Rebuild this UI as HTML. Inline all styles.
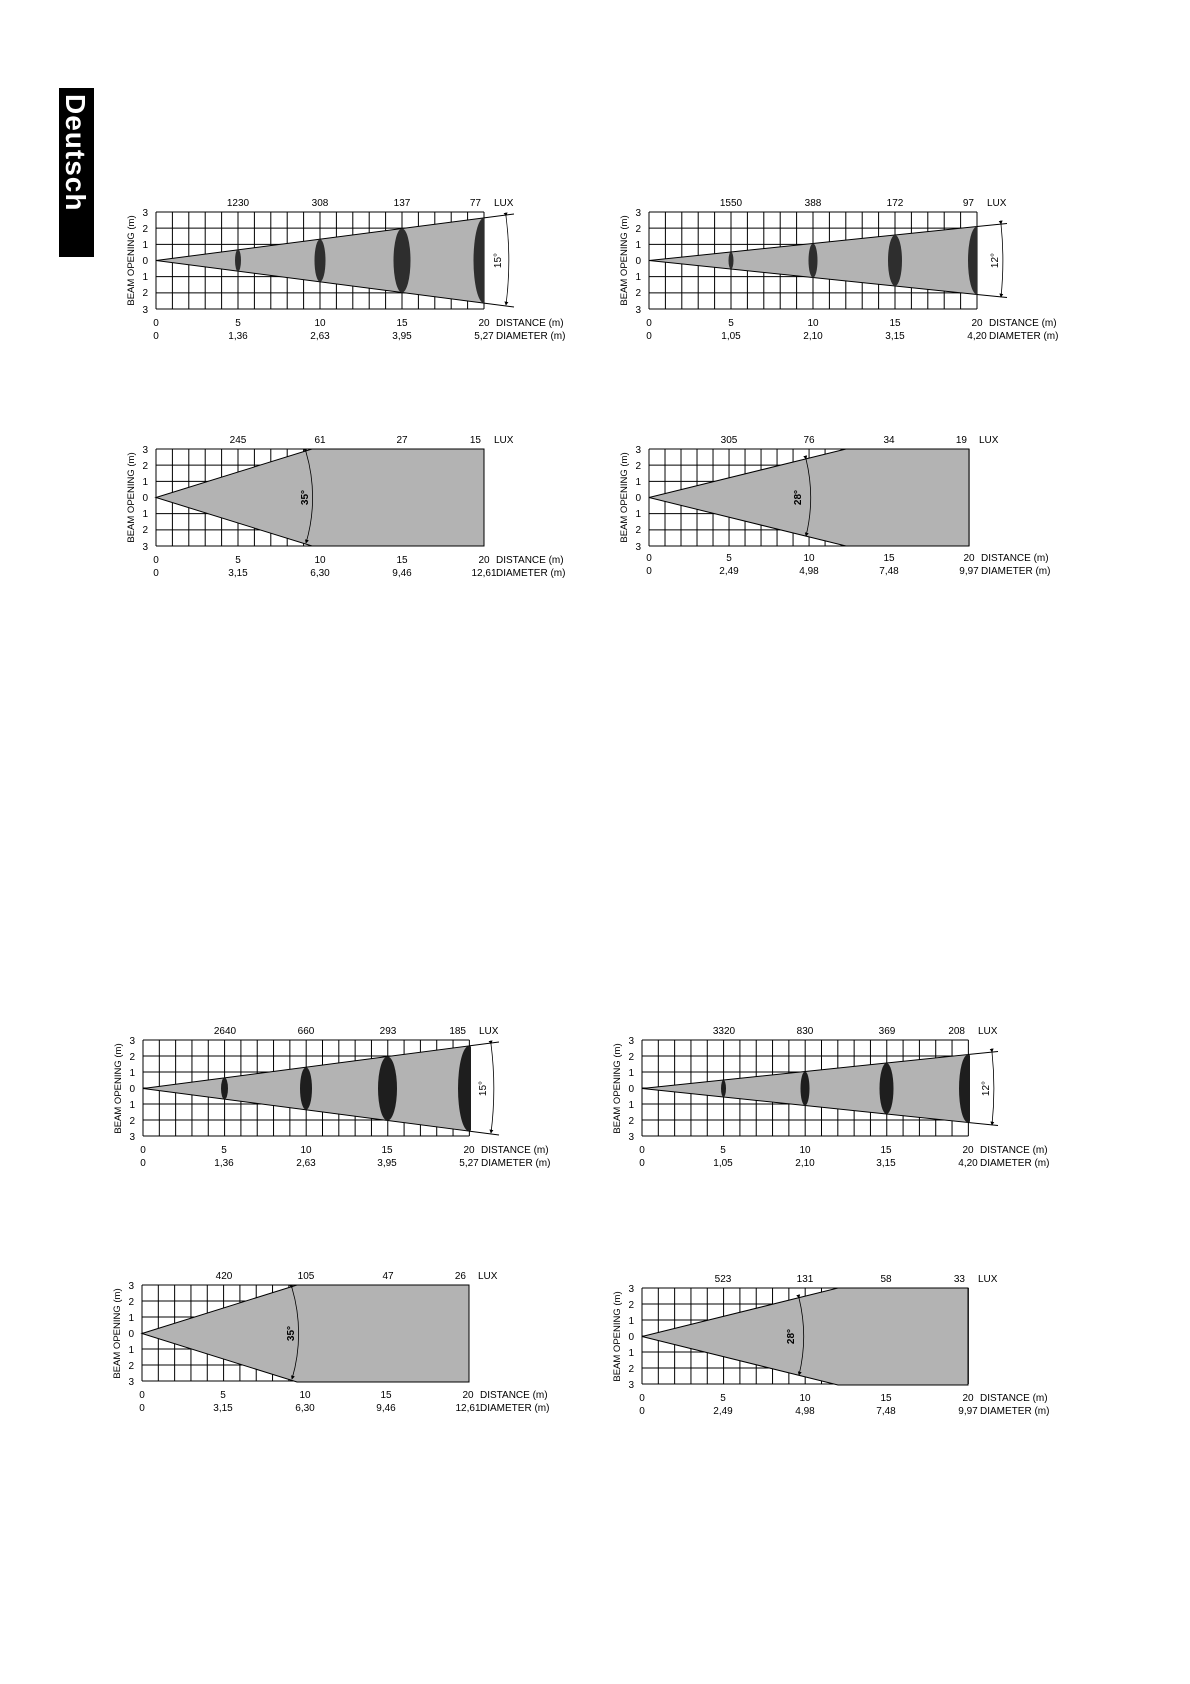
<!DOCTYPE html>
<html><head><meta charset="utf-8"><style>
html,body{margin:0;padding:0;background:#fff;}
svg{display:block;font-family:"Liberation Sans",Arial,sans-serif;}
</style></head><body>
<svg width="1190" height="1684" viewBox="0 0 1190 1684" xmlns="http://www.w3.org/2000/svg">
<defs>
<path id="grid" fill="none" stroke="#000" stroke-width="1" d="M0,0H328M0,16.17H328M0,32.33H328M0,48.5H328M0,64.67H328M0,80.83H328M0,97H328
M0,0V97M16.4,0V97M32.8,0V97M49.2,0V97M65.6,0V97M82,0V97M98.4,0V97M114.8,0V97M131.2,0V97M147.6,0V97M164,0V97M180.4,0V97M196.8,0V97M213.2,0V97M229.6,0V97M246,0V97M262.4,0V97M278.8,0V97M295.2,0V97M311.6,0V97M328,0V97"/>
<marker id="ar" viewBox="0 0 6 6" refX="5" refY="3" markerWidth="5" markerHeight="5" orient="auto"><path d="M0,0L6,3L0,6z" fill="#000"/></marker>
<clipPath id="gc"><rect x="0" y="0" width="328" height="97"/></clipPath>
</defs>

<rect x="59" y="88" width="35" height="169" fill="#000"/>
<text transform="translate(66,94) rotate(90)" font-size="28" font-weight="bold" fill="#fff" letter-spacing="1">Deutsch</text>

<!-- chart generic labels macro manually repeated -->
<!-- C1 -->
<g transform="translate(156,212)" font-size="10">
<use href="#grid"/>
<g clip-path="url(#gc)">
<polygon points="0,48.5 328,5.9 328,91.1" fill="#b3b3b3" stroke="#000" stroke-width="1"/>
<ellipse cx="82" cy="48.5" rx="3" ry="11" fill="#2e2e2e"/>
<ellipse cx="164" cy="48.5" rx="5.5" ry="21.3" fill="#2e2e2e"/>
<ellipse cx="246" cy="48.5" rx="8.5" ry="32" fill="#2e2e2e"/>
<ellipse cx="328" cy="48.5" rx="10.5" ry="42.6" fill="#2e2e2e"/>
</g>
<path d="M328,5.9L358,2M328,91.1L358,95" stroke="#000"/>
<path d="M350,4 A352 352 0 0 1 350,93" fill="none" stroke="#000" stroke-width="0.8" marker-start="url(#ar)" marker-end="url(#ar)" transform="translate(0,0)"/>
<text transform="translate(345,48.5) rotate(-90)" text-anchor="middle" font-size="10">15°</text>
<text x="82" y="-6" text-anchor="middle">1230</text><text x="164" y="-6" text-anchor="middle">308</text><text x="246" y="-6" text-anchor="middle">137</text><text x="325" y="-6" text-anchor="end">77</text><text x="338" y="-6">LUX</text>
<g text-anchor="end"><text x="-8" y="4">3</text><text x="-8" y="20">2</text><text x="-8" y="36">1</text><text x="-8" y="52">0</text><text x="-8" y="68">1</text><text x="-8" y="84">2</text><text x="-8" y="101">3</text></g>
<text transform="translate(-22,48.5) rotate(-90)" text-anchor="middle" font-size="9.5">BEAM OPENING (m)</text>
<g text-anchor="middle"><text x="0" y="114">0</text><text x="82" y="114">5</text><text x="164" y="114">10</text><text x="246" y="114">15</text><text x="328" y="114">20</text>
<text x="0" y="127">0</text><text x="82" y="127">1,36</text><text x="164" y="127">2,63</text><text x="246" y="127">3,95</text><text x="328" y="127">5,27</text></g>
<text x="340" y="114">DISTANCE (m)</text><text x="340" y="127">DIAMETER (m)</text>
</g>

<!-- C2 -->
<g transform="translate(649,212)" font-size="10">
<use href="#grid"/>
<g clip-path="url(#gc)">
<polygon points="0,48.5 328,14.5 328,82.5" fill="#b3b3b3" stroke="#000"/>
<ellipse cx="82" cy="48.5" rx="2.5" ry="8.5" fill="#2e2e2e"/>
<ellipse cx="164" cy="48.5" rx="4.5" ry="17" fill="#2e2e2e"/>
<ellipse cx="246" cy="48.5" rx="7" ry="25.5" fill="#2e2e2e"/>
<ellipse cx="328" cy="48.5" rx="9" ry="34" fill="#2e2e2e"/>
</g>
<path d="M328,14.5L358,11.5M328,82.5L358,85.5" stroke="#000"/>
<path d="M352,12 A355 355 0 0 1 352,85" fill="none" stroke="#000" stroke-width="0.8" marker-start="url(#ar)" marker-end="url(#ar)"/>
<text transform="translate(349,48.5) rotate(-90)" text-anchor="middle">12°</text>
<text x="82" y="-6" text-anchor="middle">1550</text><text x="164" y="-6" text-anchor="middle">388</text><text x="246" y="-6" text-anchor="middle">172</text><text x="325" y="-6" text-anchor="end">97</text><text x="338" y="-6">LUX</text>
<g text-anchor="end"><text x="-8" y="4">3</text><text x="-8" y="20">2</text><text x="-8" y="36">1</text><text x="-8" y="52">0</text><text x="-8" y="68">1</text><text x="-8" y="84">2</text><text x="-8" y="101">3</text></g>
<text transform="translate(-22,48.5) rotate(-90)" text-anchor="middle" font-size="9.5">BEAM OPENING (m)</text>
<g text-anchor="middle"><text x="0" y="114">0</text><text x="82" y="114">5</text><text x="164" y="114">10</text><text x="246" y="114">15</text><text x="328" y="114">20</text>
<text x="0" y="127">0</text><text x="82" y="127">1,05</text><text x="164" y="127">2,10</text><text x="246" y="127">3,15</text><text x="328" y="127">4,20</text></g>
<text x="340" y="114">DISTANCE (m)</text><text x="340" y="127">DIAMETER (m)</text>
</g>

<!-- C3 -->
<g transform="translate(156,449)" font-size="10">
<use href="#grid"/>
<polygon points="0,48.5 156,0 328,0 328,97 156,97" fill="#b3b3b3" stroke="#000"/>
<path d="M150,3 A160 160 0 0 1 150,94" fill="none" stroke="#000" stroke-width="0.8" marker-start="url(#ar)" marker-end="url(#ar)"/>
<text transform="translate(152,48.5) rotate(-90)" text-anchor="middle" font-weight="bold">35°</text>
<text x="82" y="-6" text-anchor="middle">245</text><text x="164" y="-6" text-anchor="middle">61</text><text x="246" y="-6" text-anchor="middle">27</text><text x="325" y="-6" text-anchor="end">15</text><text x="338" y="-6">LUX</text>
<g text-anchor="end"><text x="-8" y="4">3</text><text x="-8" y="20">2</text><text x="-8" y="36">1</text><text x="-8" y="52">0</text><text x="-8" y="68">1</text><text x="-8" y="84">2</text><text x="-8" y="101">3</text></g>
<text transform="translate(-22,48.5) rotate(-90)" text-anchor="middle" font-size="9.5">BEAM OPENING (m)</text>
<g text-anchor="middle"><text x="0" y="114">0</text><text x="82" y="114">5</text><text x="164" y="114">10</text><text x="246" y="114">15</text><text x="328" y="114">20</text>
<text x="0" y="127">0</text><text x="82" y="127">3,15</text><text x="164" y="127">6,30</text><text x="246" y="127">9,46</text><text x="328" y="127">12,61</text></g>
<text x="340" y="114">DISTANCE (m)</text><text x="340" y="127">DIAMETER (m)</text>
</g>

<!-- C4 -->
<g transform="translate(649,449)" font-size="10">
<use href="#grid" transform="scale(0.976,1)"/>
<polygon points="0,48.5 197,0 320,0 320,97 197,97" fill="#b3b3b3" stroke="#000"/>
<path d="M157,10 A162 162 0 0 1 157,87" fill="none" stroke="#000" stroke-width="0.8" marker-start="url(#ar)" marker-end="url(#ar)"/>
<text transform="translate(152,48.5) rotate(-90)" text-anchor="middle" font-weight="bold">28°</text>
<text x="80" y="-6" text-anchor="middle">305</text><text x="160" y="-6" text-anchor="middle">76</text><text x="240" y="-6" text-anchor="middle">34</text><text x="318" y="-6" text-anchor="end">19</text><text x="330" y="-6">LUX</text>
<g text-anchor="end"><text x="-8" y="4">3</text><text x="-8" y="20">2</text><text x="-8" y="36">1</text><text x="-8" y="52">0</text><text x="-8" y="68">1</text><text x="-8" y="84">2</text><text x="-8" y="101">3</text></g>
<text transform="translate(-22,48.5) rotate(-90)" text-anchor="middle" font-size="9.5">BEAM OPENING (m)</text>
<g text-anchor="middle"><text x="0" y="112">0</text><text x="80" y="112">5</text><text x="160" y="112">10</text><text x="240" y="112">15</text><text x="320" y="112">20</text>
<text x="0" y="125">0</text><text x="80" y="125">2,49</text><text x="160" y="125">4,98</text><text x="240" y="125">7,48</text><text x="320" y="125">9,97</text></g>
<text x="332" y="112">DISTANCE (m)</text><text x="332" y="125">DIAMETER (m)</text>
</g>

<!-- C5 -->
<g transform="translate(143,1040)" font-size="10">
<use href="#grid" transform="scale(0.995,0.99)"/>
<g clip-path="url(#gc)">
<polygon points="0,48.5 326,5.9 326,91.1" fill="#b3b3b3" stroke="#000"/>
<ellipse cx="81.5" cy="48.5" rx="3.5" ry="11" fill="#1e1e1e"/>
<ellipse cx="163" cy="48.5" rx="6" ry="21.3" fill="#1e1e1e"/>
<ellipse cx="244.5" cy="48.5" rx="9.5" ry="32" fill="#1e1e1e"/>
<ellipse cx="326" cy="48.5" rx="11" ry="42.6" fill="#1e1e1e"/>
</g>
<path d="M326,5.9L356,2M326,91.1L356,95" stroke="#000"/>
<path d="M348,4 A352 352 0 0 1 348,93" fill="none" stroke="#000" stroke-width="0.8" marker-start="url(#ar)" marker-end="url(#ar)"/>
<text transform="translate(343,48.5) rotate(-90)" text-anchor="middle">15°</text>
<text x="82" y="-6" text-anchor="middle">2640</text><text x="163" y="-6" text-anchor="middle">660</text><text x="245" y="-6" text-anchor="middle">293</text><text x="323" y="-6" text-anchor="end">185</text><text x="336" y="-6">LUX</text>
<g text-anchor="end"><text x="-8" y="4">3</text><text x="-8" y="20">2</text><text x="-8" y="36">1</text><text x="-8" y="52">0</text><text x="-8" y="68">1</text><text x="-8" y="84">2</text><text x="-8" y="100">3</text></g>
<text transform="translate(-22,48.5) rotate(-90)" text-anchor="middle" font-size="9.5">BEAM OPENING (m)</text>
<g text-anchor="middle"><text x="0" y="113">0</text><text x="81" y="113">5</text><text x="163" y="113">10</text><text x="244" y="113">15</text><text x="326" y="113">20</text>
<text x="0" y="126">0</text><text x="81" y="126">1,36</text><text x="163" y="126">2,63</text><text x="244" y="126">3,95</text><text x="326" y="126">5,27</text></g>
<text x="338" y="113">DISTANCE (m)</text><text x="338" y="126">DIAMETER (m)</text>
</g>

<!-- C6 -->
<g transform="translate(642,1040)" font-size="10">
<use href="#grid" transform="scale(0.995,0.99)"/>
<g clip-path="url(#gc)">
<polygon points="0,48.5 326,14.5 326,82.5" fill="#b3b3b3" stroke="#000"/>
<ellipse cx="81.5" cy="48.5" rx="2.5" ry="8.5" fill="#1e1e1e"/>
<ellipse cx="163" cy="48.5" rx="4.5" ry="17" fill="#1e1e1e"/>
<ellipse cx="244.5" cy="48.5" rx="7" ry="25.5" fill="#1e1e1e"/>
<ellipse cx="326" cy="48.5" rx="9" ry="34" fill="#1e1e1e"/>
</g>
<path d="M326,14.5L356,11.5M326,82.5L356,85.5" stroke="#000"/>
<path d="M350,12 A355 355 0 0 1 350,85" fill="none" stroke="#000" stroke-width="0.8" marker-start="url(#ar)" marker-end="url(#ar)"/>
<text transform="translate(347,48.5) rotate(-90)" text-anchor="middle">12°</text>
<text x="82" y="-6" text-anchor="middle">3320</text><text x="163" y="-6" text-anchor="middle">830</text><text x="245" y="-6" text-anchor="middle">369</text><text x="323" y="-6" text-anchor="end">208</text><text x="336" y="-6">LUX</text>
<g text-anchor="end"><text x="-8" y="4">3</text><text x="-8" y="20">2</text><text x="-8" y="36">1</text><text x="-8" y="52">0</text><text x="-8" y="68">1</text><text x="-8" y="84">2</text><text x="-8" y="100">3</text></g>
<text transform="translate(-22,48.5) rotate(-90)" text-anchor="middle" font-size="9.5">BEAM OPENING (m)</text>
<g text-anchor="middle"><text x="0" y="113">0</text><text x="81" y="113">5</text><text x="163" y="113">10</text><text x="244" y="113">15</text><text x="326" y="113">20</text>
<text x="0" y="126">0</text><text x="81" y="126">1,05</text><text x="163" y="126">2,10</text><text x="244" y="126">3,15</text><text x="326" y="126">4,20</text></g>
<text x="338" y="113">DISTANCE (m)</text><text x="338" y="126">DIAMETER (m)</text>
</g>

<!-- C7 -->
<g transform="translate(142,1285)" font-size="10">
<use href="#grid" transform="scale(0.995,0.99)"/>
<polygon points="0,48.5 155,0 327,0 327,97 155,97" fill="#b3b3b3" stroke="#000"/>
<path d="M150,3 A160 160 0 0 1 150,94" fill="none" stroke="#000" stroke-width="0.8" marker-start="url(#ar)" marker-end="url(#ar)"/>
<text transform="translate(152,48.5) rotate(-90)" text-anchor="middle" font-weight="bold">35°</text>
<text x="82" y="-6" text-anchor="middle">420</text><text x="164" y="-6" text-anchor="middle">105</text><text x="246" y="-6" text-anchor="middle">47</text><text x="324" y="-6" text-anchor="end">26</text><text x="336" y="-6">LUX</text>
<g text-anchor="end"><text x="-8" y="4">3</text><text x="-8" y="20">2</text><text x="-8" y="36">1</text><text x="-8" y="52">0</text><text x="-8" y="68">1</text><text x="-8" y="84">2</text><text x="-8" y="100">3</text></g>
<text transform="translate(-22,48.5) rotate(-90)" text-anchor="middle" font-size="9.5">BEAM OPENING (m)</text>
<g text-anchor="middle"><text x="0" y="113">0</text><text x="81" y="113">5</text><text x="163" y="113">10</text><text x="244" y="113">15</text><text x="326" y="113">20</text>
<text x="0" y="126">0</text><text x="81" y="126">3,15</text><text x="163" y="126">6,30</text><text x="244" y="126">9,46</text><text x="326" y="126">12,61</text></g>
<text x="338" y="113">DISTANCE (m)</text><text x="338" y="126">DIAMETER (m)</text>
</g>

<!-- C8 -->
<g transform="translate(642,1288)" font-size="10">
<use href="#grid" transform="scale(0.995,0.99)"/>
<polygon points="0,48.5 196,0 326,0 326,97 196,97" fill="#b3b3b3" stroke="#000"/>
<path d="M157,10 A162 162 0 0 1 157,87" fill="none" stroke="#000" stroke-width="0.8" marker-start="url(#ar)" marker-end="url(#ar)"/>
<text transform="translate(152,48.5) rotate(-90)" text-anchor="middle" font-weight="bold">28°</text>
<text x="81" y="-6" text-anchor="middle">523</text><text x="163" y="-6" text-anchor="middle">131</text><text x="244" y="-6" text-anchor="middle">58</text><text x="323" y="-6" text-anchor="end">33</text><text x="336" y="-6">LUX</text>
<g text-anchor="end"><text x="-8" y="4">3</text><text x="-8" y="20">2</text><text x="-8" y="36">1</text><text x="-8" y="52">0</text><text x="-8" y="68">1</text><text x="-8" y="84">2</text><text x="-8" y="100">3</text></g>
<text transform="translate(-22,48.5) rotate(-90)" text-anchor="middle" font-size="9.5">BEAM OPENING (m)</text>
<g text-anchor="middle"><text x="0" y="113">0</text><text x="81" y="113">5</text><text x="163" y="113">10</text><text x="244" y="113">15</text><text x="326" y="113">20</text>
<text x="0" y="126">0</text><text x="81" y="126">2,49</text><text x="163" y="126">4,98</text><text x="244" y="126">7,48</text><text x="326" y="126">9,97</text></g>
<text x="338" y="113">DISTANCE (m)</text><text x="338" y="126">DIAMETER (m)</text>
</g>
</svg>
</body></html>
